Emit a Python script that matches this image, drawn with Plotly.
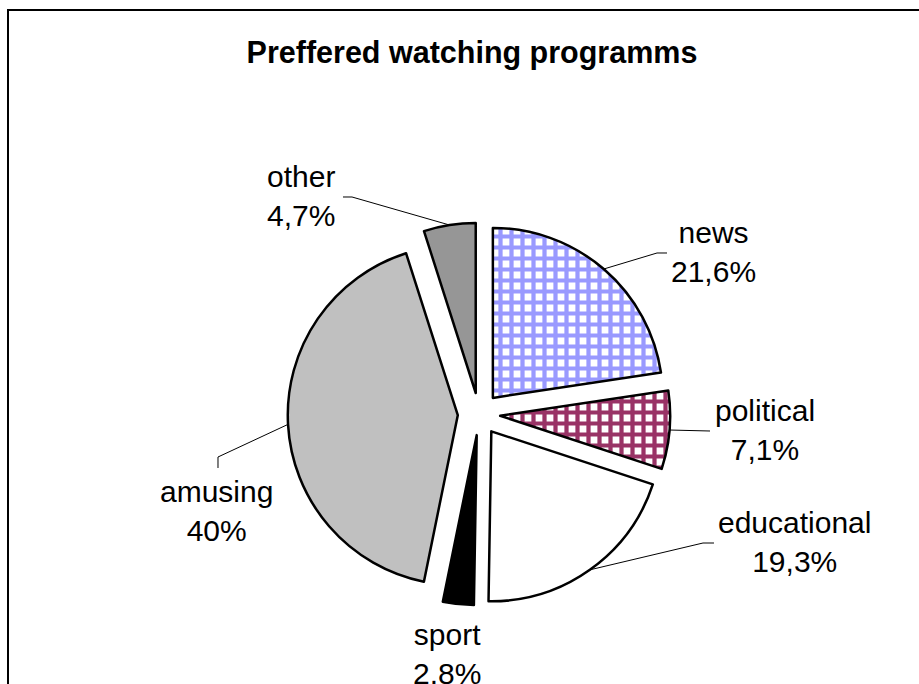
import math
import plotly.graph_objects as go

# ---- data ----
categories = ["news", "political", "educational", "sport", "amusing", "other"]
shares = [21.6, 7.1, 19.3, 2.8, 40, 4.7]
share_labels = ["21,6%", "7,1%", "19,3%", "2.8%", "40%", "4,7%"]

# ---- styling ----
W, H = 919, 684
FONT = "Liberation Sans, Arial, sans-serif"
fill_colors = ["#FFFFFF", "#FFFFFF", "#FFFFFF", "#000000", "#C0C0C0", "#969696"]
pattern_shapes = ["+", "+", "", "", "", ""]
pattern_fg = ["#9999FF", "#993366", "#000000", "#000000", "#000000", "#000000"]

# pie geometry in pixels
CX, CY, R, PULL = 479, 414, 170, 0.125
half = R * (1 + PULL)


def px(x):
    return x / W


def py(y):
    return 1 - y / H


# label centres and leader-line bend points (pixels); None = no leader line
label_pos = {
    "news": (713, 252),
    "political": (765, 430),
    "educational": (794, 542),
    "sport": (447, 654),
    "amusing": (216, 511),
    "other": (301, 196),
}
leader_path = {
    "news": [(657, 253), (667, 253)],
    "political": [(710, 431)],
    "educational": [(703, 543), (714, 543)],
    "sport": None,
    "amusing": [(218, 457), (218, 468)],
    "other": [(352, 197), (343, 197)],
}

fig = go.Figure(
    go.Pie(
        labels=categories,
        values=shares,
        sort=False,
        direction="clockwise",
        rotation=0,
        pull=[PULL] * len(categories),
        textinfo="none",
        hoverinfo="label+value",
        showlegend=False,
        domain=dict(
            x=[px(CX - half), px(CX + half)],
            y=[py(CY + half), py(CY - half)],
        ),
        marker=dict(
            colors=fill_colors,
            line=dict(color="#000000", width=2.5),
            pattern=dict(
                shape=pattern_shapes,
                fgcolor=pattern_fg,
                bgcolor=fill_colors,
                fgopacity=1,
                size=11,
                solidity=0.62,
                fillmode="replace",
            ),
        ),
    )
)

# labels and leader lines computed from each slice's mid angle
total = sum(shares)
cum = 0.0
shapes = []
annotations = []
for name, val, txt in zip(categories, shares, share_labels):
    mid = (cum + val / 2) / total * 2 * math.pi
    cum += val
    ex = CX + R * (1 + PULL) * math.sin(mid)
    ey = CY - R * (1 + PULL) * math.cos(mid)
    path = leader_path[name]
    if path:
        pts = [(ex, ey)] + path
        d = "M " + " L ".join(f"{px(x):.5f},{py(y):.5f}" for x, y in pts)
        shapes.append(dict(type="path", xref="paper", yref="paper", path=d,
                           line=dict(color="#000000", width=1)))
    lx, ly = label_pos[name]
    annotations.append(dict(
        x=px(lx), y=py(ly), xref="paper", yref="paper",
        text=f"{name}<br>{txt}", showarrow=False,
        xanchor="center", yanchor="middle", align="center",
        font=dict(family=FONT, size=30, color="#000000"),
    ))

# chart-area frame
shapes.append(dict(type="rect", xref="paper", yref="paper",
                   x0=px(8), y0=py(10), x1=px(W + 20), y1=py(H + 20),
                   line=dict(color="#000000", width=2), fillcolor="rgba(0,0,0,0)"))

fig.update_layout(
    width=W,
    height=H,
    margin=dict(l=0, r=0, t=0, b=0),
    paper_bgcolor="#FFFFFF",
    plot_bgcolor="#FFFFFF",
    title=dict(
        text="<b>Preffered watching programms</b>",
        x=px(472), y=py(52), xref="paper", yref="container",
        xanchor="center", yanchor="middle",
        font=dict(family=FONT, size=30.5, color="#000000"),
    ),
    shapes=shapes,
    annotations=annotations,
)

fig.write_html("out.html")
